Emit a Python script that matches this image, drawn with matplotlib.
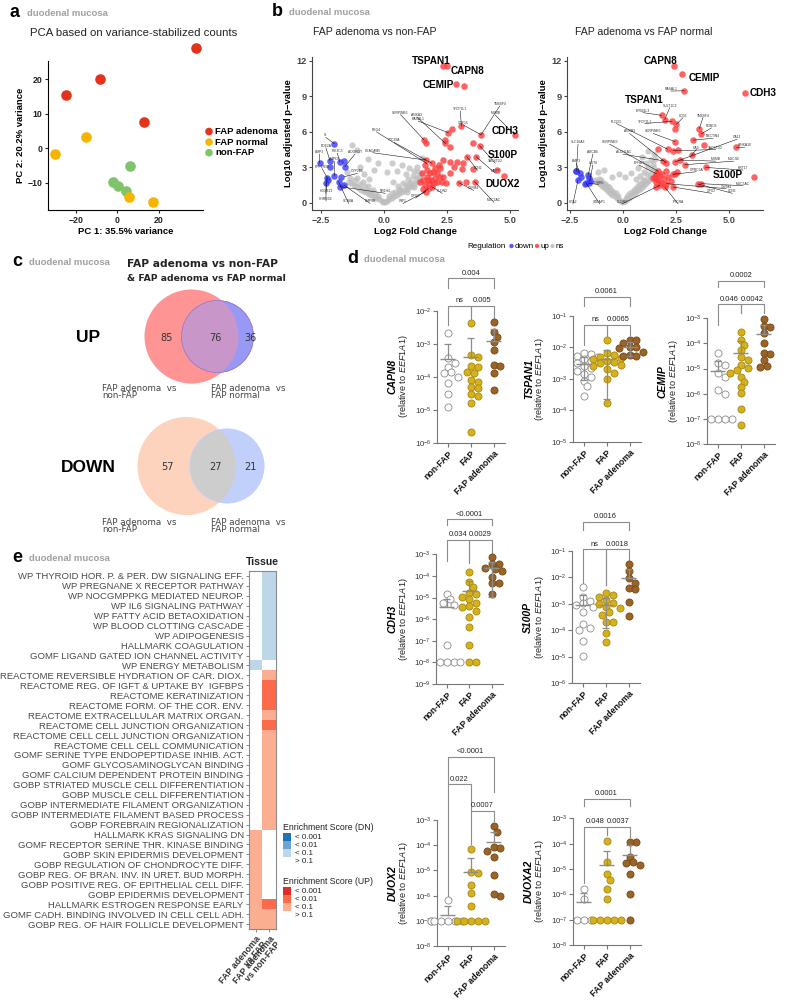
import numpy as np
import matplotlib
matplotlib.use("Agg")
import matplotlib.pyplot as plt
from matplotlib.patches import Circle, Rectangle
from matplotlib.colors import ListedColormap

plt.rcParams['font.family'] = ['Liberation Sans', 'DejaVu Sans']
plt.rcParams['mathtext.fontset'] = 'custom'
plt.rcParams['mathtext.rm'] = 'Liberation Sans'
plt.rcParams['mathtext.it'] = 'Liberation Sans:italic'
plt.rcParams['mathtext.bf'] = 'Liberation Sans:bold'

# ---------------- data: panel a (PCA) ----------------
adenoma_pc1 = [37.9, -8.4, -24.8, 12.9]
adenoma_pc2 = [29.0, 20.0, 15.3, 7.5]
normal_pc1 = [-15.1, -30.0, 5.6, 17.1]
normal_pc2 = [3.3, -1.6, -14.0, -15.6]
nonfap_pc1 = [6.3, -1.9, 0.2, 4.3]
nonfap_pc2 = [-5.2, -9.8, -11.0, -12.4]

# ---------------- data: panel b (volcano) ----------------
volc_l_up = [(2.33, 11.57), (2.51, 11.57), (2.86, 10.06), (3.15, 9.83), (3.06, 6.47), (2.70, 6.27),
             (2.55, 5.91), (2.41, 5.29), (2.59, 4.73), (2.43, 5.01), (3.84, 5.74), (5.17, 5.74),
             (3.51, 5.01), (3.78, 4.82), (3.28, 3.89), (3.65, 3.89), (2.88, 3.47), (3.13, 3.33),
             (2.62, 3.47), (2.35, 3.61), (2.75, 3.05), (2.17, 3.19), (1.90, 3.33), (1.59, 5.29),
             (1.67, 5.01), (1.65, 3.61), (1.64, 3.19), (4.47, 2.77), (4.76, 2.27), (3.51, 2.86),
             (3.08, 2.83), (3.23, 1.79), (3.58, 1.79), (2.95, 1.71), (2.46, 1.65), (2.35, 2.21),
             (2.59, 2.49), (2.22, 2.91), (2.09, 2.49), (1.69, 2.77), (1.83, 2.49), (1.93, 2.63),
             (2.02, 2.07), (1.85, 1.93), (1.69, 2.21), (1.56, 1.93), (1.76, 1.65), (1.96, 1.71),
             (2.09, 1.79), (1.89, 1.37), (1.63, 1.51), (1.76, 1.23), (1.49, 2.49), (2.20, 2.21),
             (2.29, 1.79), (1.43, 1.79), (2.02, 2.91), (1.65, 0.95), (1.55, 1.15), (1.72, 1.95)]
volc_l_down = [(-2.54, 3.33), (-2.14, 3.56), (-1.97, 4.99), (-2.14, 3.05), (-1.75, 3.47), (-1.57, 3.50),
               (-1.55, 3.05), (-1.96, 2.27), (-2.25, 2.13), (-2.30, 1.71), (-1.80, 1.79), (-1.72, 2.21),
               (-2.22, 1.93), (-1.75, 1.37), (-1.59, 1.51)]
volc_l_ns = [(-0.05, 0.05), (0.05, 0.10), (0.10, 0.20), (-0.10, 0.15), (0.20, 0.30), (-0.20, 0.30),
             (0.30, 0.45), (-0.30, 0.40), (0.40, 0.55), (-0.40, 0.50), (0.50, 0.70), (-0.50, 0.65),
             (0.60, 0.80), (-0.60, 0.75), (0.70, 0.90), (-0.70, 0.90), (0.80, 1.05), (-0.80, 1.00),
             (0.90, 1.20), (-0.90, 1.10), (1.00, 1.30), (-1.00, 1.25), (1.10, 1.45), (-1.10, 1.40),
             (1.20, 1.60), (-1.20, 1.50), (1.30, 1.75), (-1.30, 1.65), (1.40, 1.90), (-1.40, 1.80),
             (0.45, 0.90), (0.65, 1.20), (0.85, 1.50), (1.05, 1.80), (1.25, 2.10), (1.45, 2.40),
             (0.30, 0.80), (0.55, 1.40), (0.75, 1.70), (0.95, 2.00), (1.15, 2.30), (1.35, 2.60),
             (-0.35, 0.75), (-0.55, 1.00), (-0.75, 1.30), (-0.95, 1.60), (-1.15, 1.90), (-1.35, 2.10),
             (-0.25, 0.60), (-0.45, 1.10), (-0.65, 1.45), (-0.85, 1.80), (-1.05, 2.10), (0.20, 0.55),
             (0.60, 1.05), (1.00, 1.55), (1.40, 2.20), (1.20, 1.35), (0.90, 0.95), (-1.25, 4.90),
             (-1.05, 4.50), (-0.65, 3.70), (-0.25, 3.35), (0.30, 3.40), (0.70, 3.20), (1.00, 2.90),
             (-0.80, 2.40), (-1.45, 2.60), (0.10, 2.60), (1.30, 3.00), (1.50, 3.80), (0.50, 2.70),
             (-0.40, 2.80), (-0.95, 3.00), (0.85, 2.45), (1.20, 2.70), (-0.60, 2.00), (0.35, 1.80)]

volc_r_up = [(2.39, 11.58), (2.80, 10.83), (2.89, 9.45), (5.77, 9.23), (1.82, 7.38), (1.97, 7.02),
             (2.31, 6.88), (2.52, 6.63), (2.47, 6.27), (3.60, 6.27), (3.69, 5.82), (3.32, 5.29),
             (2.45, 5.17), (3.82, 4.84), (5.35, 4.67), (1.67, 4.53), (2.10, 4.53), (2.36, 4.39),
             (2.61, 4.45), (3.24, 4.03), (1.90, 3.55), (2.04, 3.38), (2.47, 3.47), (2.67, 3.61),
             (2.91, 3.22), (3.90, 2.99), (1.67, 2.66), (2.04, 2.71), (2.36, 2.41), (6.18, 2.15),
             (3.54, 1.59), (3.69, 1.62), (1.57, 2.46), (1.51, 2.20), (1.65, 1.93), (1.81, 1.71),
             (1.57, 1.79), (1.42, 2.07), (1.92, 1.99), (1.73, 1.48), (2.04, 1.62), (2.36, 1.34),
             (2.44, 2.46), (1.57, 1.37), (2.12, 2.20), (1.85, 2.45), (1.98, 1.30), (2.25, 1.85),
             (1.70, 2.30), (2.55, 2.60)]
volc_r_down = [(-2.20, 2.69), (-2.04, 2.49), (-2.00, 2.21), (-2.12, 1.93), (-1.64, 2.35), (-1.57, 1.85),
               (-1.73, 1.65), (-1.60, 1.65), (-1.78, 1.60), (-2.23, 2.70), (-1.62, 2.10)]
volc_r_ns = [(0.00, 0.05), (0.10, 0.15), (-0.10, 0.12), (0.20, 0.30), (-0.20, 0.28), (0.30, 0.45),
             (-0.30, 0.42), (0.40, 0.60), (-0.40, 0.55), (0.50, 0.75), (-0.50, 0.70), (0.60, 0.90),
             (-0.60, 0.85), (0.70, 1.05), (-0.70, 1.00), (0.80, 1.20), (-0.80, 1.15), (0.90, 1.35),
             (-0.90, 1.30), (1.00, 1.50), (-1.00, 1.45), (1.10, 1.65), (-1.10, 1.60), (1.20, 1.85),
             (-1.20, 1.75), (1.30, 2.00), (-1.30, 1.90), (1.40, 2.20), (0.45, 1.00), (0.65, 1.30),
             (0.85, 1.60), (1.05, 1.95), (1.25, 2.30), (0.35, 0.85), (0.55, 1.20), (0.75, 1.55),
             (0.95, 1.90), (1.15, 2.40), (1.35, 2.70), (-0.35, 0.80), (-0.55, 1.10), (-0.75, 1.40),
             (-0.95, 1.70), (-1.15, 2.05), (-0.25, 0.60), (-0.45, 0.95), (-0.65, 1.30), (-0.85, 1.60),
             (-1.05, 1.95), (0.15, 0.45), (0.25, 0.70), (1.00, 2.60), (1.20, 3.00), (1.40, 3.30),
             (0.80, 2.30), (0.60, 2.00), (1.30, 3.60), (1.10, 3.40), (1.45, 4.10), (1.20, 4.40),
             (0.90, 3.90), (0.70, 2.90), (0.40, 2.50), (-0.20, 2.40), (-0.50, 2.20), (-1.20, 2.60),
             (-0.90, 2.80), (0.10, 2.20), (1.45, 2.90), (1.50, 3.70)]

# gene labels: (name, point x, point y)
big_l = [("TSPAN1", 2.33, 11.57), ("CAPN8", 2.51, 11.57), ("CEMIP", 2.86, 10.06),
         ("CDH3", 5.17, 5.74), ("S100P", 4.76, 4.80), ("DUOX2", 4.76, 2.27)]
big_r = [("CAPN8", 2.39, 11.58), ("CEMIP", 2.80, 10.83), ("CDH3", 5.77, 9.23),
         ("TSPAN1", 1.82, 7.38), ("S100P", 6.18, 2.15)]
small_l = ["SI", "PDE2A", "BMP3", "PPP1R3B", "PIK3C3", "SMPD3", "ADGRG7", "CYP2B6", "HOXB13",
           "CHRNB2", "SCN8A", "BMP8B", "NR1H4", "CEACAM5", "REG4", "TTC39A", "ANXA3", "SERPINB5",
           "RASAL1", "TFCP2L1", "GDF15", "TM4SF4", "MSMB", "TACSTD2", "LCN2", "MMP7", "OLFM4",
           "MUC5AC", "GPX2", "WIF1", "CLDN2"]
small_r = ["RASAL1", "SULT1C2", "CD36", "EPB41L3", "PLCD3", "TFCP2L1", "TM4SF4", "ROBO1", "ANXA3",
           "SERPINB5", "NECTIN4", "CA12", "ANXA10", "SLC26A3", "SERPINB3", "ALDH1A1", "ABCB6",
           "TACSTD2", "CA9", "MSMB", "MUC5B", "BMP3", "UGT8", "EPHB3", "GPRC5A", "KRT17", "MUC5AC",
           "CDHR5", "OLFM4", "GPX2", "LCN2", "CPA2", "STEAP1", "CLDN2", "PTCRA"]

# ---------------- data: panel c (Venn) ----------------
venn_up = (85, 76, 36)
venn_down = (57, 27, 21)

# ---------------- data: panel d (qPCR, log10 relative expression) ----------------
d_groups = ['non-FAP', 'FAP', 'FAP adenoma']
capn8 = [[-2.67, -3.44, -3.58, -3.70, -3.85, -3.88, -4.0, -4.2, -4.53, -4.91],
         [-2.38, -3.34, -3.41, -3.68, -3.70, -3.85, -3.88, -4.1, -4.15, -4.3, -4.35, -4.53, -4.6, -4.79, -5.67],
         [-2.33, -2.64, -2.79, -2.94, -3.19, -3.64, -3.67, -3.89, -4.39]]
tspan1 = [[-2.17, -2.21, -2.27, -2.32, -2.38, -2.42, -2.51, -2.59, -2.67, -2.74, -2.85, -2.93, -3.06, -3.23, -3.55],
          [-1.76, -2.19, -2.24, -2.30, -2.34, -2.38, -2.42, -2.45, -2.51, -2.55, -2.6, -2.7, -2.8, -3.0, -3.76],
          [-1.76, -1.76, -1.87, -2.0, -2.0, -2.03, -2.14, -2.24, -2.28, -2.28]]
cemip = [[-4.39, -4.79, -4.86, -5.16, -5.35, -5.85, -6.01, -7.0, -7.0, -7.0, -7.0],
         [-3.53, -3.86, -4.06, -4.26, -4.53, -4.66, -4.86, -4.99, -5.06, -5.16, -5.32, -5.52, -5.72, -5.98, -6.62, -7.24],
         [-3.03, -3.3, -3.35, -3.6, -4.0, -4.39, -4.43, -4.66, -4.95, -4.9]]
cdh3 = [[-4.85, -5.08, -5.26, -5.34, -7.19, -8.0, -8.0, -8.0, -8.0],
        [-3.8, -4.27, -4.5, -4.77, -4.83, -4.96, -5.08, -5.26, -5.39, -5.42, -5.6, -5.91, -6.37, -7.19, -8.0, -8.0],
        [-3.14, -3.45, -3.45, -3.62, -3.7, -3.75, -4.03, -4.34, -4.34, -4.83]]
s100p = [[-2.35, -2.73, -2.9, -2.98, -3.04, -3.1, -3.29, -3.77, -3.92, -3.99, -4.4, -4.97],
         [-2.6, -2.66, -2.75, -2.85, -2.98, -3.02, -3.1, -3.15, -3.29, -3.42, -3.67, -3.7, -4.11, -4.43],
         [-1.49, -1.76, -2.03, -2.2, -2.41, -2.45, -2.92, -3.46]]
duox2 = [[-6.17, -7, -7, -7, -7, -7, -7, -7],
         [-4.14, -5.05, -5.1, -5.58, -5.91, -6.41, -7, -7, -7, -7, -7],
         [-3.24, -3.46, -4.06, -4.12, -4.24, -4.48, -5.18, -6.0, -5.94]]
duoxa2 = [[-5.79, -6.2, -7.01, -7.01, -7.01],
          [-3.89, -4.72, -5.2, -5.43, -5.79, -6.2, -7.01, -7.01, -7.01, -7.01, -7.01],
          [-3.92, -3.92, -4.51, -4.71, -4.78, -4.84, -5.21, -5.99, -7.01]]
# p-value labels per panel: (left, right, label)
p_capn8 = [(0, 2, '0.004'), (0, 1, 'ns'), (1, 2, '0.005')]
p_tspan1 = [(0, 2, '0.0061'), (0, 1, 'ns'), (1, 2, '0.0065')]
p_cemip = [(0, 2, '0.0002'), (0, 1, '0.046'), (1, 2, '0.0042')]
p_cdh3 = [(0, 2, '<0.0001'), (0, 1, '0.034'), (1, 2, '0.0029')]
p_s100p = [(0, 2, '0.0016'), (0, 1, 'ns'), (1, 2, '0.0018')]
p_duox2 = [(0, 2, '<0.0001'), (0, 1, '0.022'), (1, 2, '0.0007')]
p_duoxa2 = [(0, 2, '0.0001'), (0, 1, '0.048'), (1, 2, '0.0037')]

# ---------------- data: panel e (enrichment heatmap) ----------------
pathways = ["WP THYROID HOR. P. & PER. DW SIGNALING EFF.", "WP PREGNANE X RECEPTOR PATHWAY",
            "WP NOCGMPPKG MEDIATED NEUROP.", "WP IL6 SIGNALING PATHWAY", "WP FATTY ACID BETAOXIDATION",
            "WP BLOOD CLOTTING CASCADE", "WP ADIPOGENESIS", "HALLMARK COAGULATION",
            "GOMF LIGAND GATED ION CHANNEL ACTIVITY", "WP ENERGY METABOLISM",
            "REACTOME REVERSIBLE HYDRATION OF CAR. DIOX.", "REACTOME REG. OF IGFT & UPTAKE BY  IGFBPS",
            "REACTOME KERATINIZATION", "REACTOME FORM. OF THE COR. ENV.",
            "REACTOME EXTRACELLULAR MATRIX ORGAN.", "REACTOME CELL JUNCTION ORGANIZATION",
            "REACTOME CELL CELL JUNCTION ORGANIZATION", "REACTOME CELL CELL COMMUNICATION",
            "GOMF SERINE TYPE ENDOPEPTIDASE INHIB. ACT.", "GOMF GLYCOSAMINOGLYCAN BINDING",
            "GOMF CALCIUM DEPENDENT PROTEIN BINDING", "GOBP STRIATED MUSCLE CELL DIFFERENTIATION",
            "GOBP MUSCLE CELL DIFFERENTIATION", "GOBP INTERMEDIATE FILAMENT ORGANIZATION",
            "GOBP INTERMEDIATE FILAMENT BASED PROCESS", "GOBP FOREBRAIN REGIONALIZATION",
            "HALLMARK KRAS SIGNALING DN", "GOMF RECEPTOR SERINE THR. KINASE BINDING",
            "GOBP SKIN EPIDERMIS DEVELOPMENT", "GOBP REGULATION OF CHONDROCYTE DIFF.",
            "GOBP REG. OF BRAN. INV. IN URET. BUD MORPH.", "GOBP POSITIVE REG. OF EPITHELIAL CELL DIFF.",
            "GOBP EPIDERMIS DEVELOPMENT", "HALLMARK ESTROGEN RESPONSE EARLY",
            "GOMF CADH. BINDING INVOLVED IN CELL CELL ADH.", "GOBP REG. OF HAIR FOLLICLE DEVELOPMENT"]
comparisons = ["FAP adenoma\nvs FAP", "FAP adenoma\nvs non-FAP"]
# score class: '' = > 0.1, 'dn3' = DN < 0.1, 'up2' = UP < 0.01, 'up3' = UP < 0.1
score_vs_fap = [''] * 9 + ['dn3'] + [''] * 16 + ['up3'] * 10
score_vs_nonfap = (['dn3'] * 9 + [''] + ['up3', 'up2', 'up2', 'up2', 'up3', 'up2'] + ['up3'] * 10
                   + [''] * 7 + ['up2', 'up3', 'up3'])
score_classes = ['', 'dn1', 'dn2', 'dn3', 'up1', 'up2', 'up3']
score_colors = ['#ffffff', '#2171b5', '#6aa6d4', '#bdd7e9', '#de2d26', '#fb6a4a', '#fcae91']
legend_labels = ['< 0.001', '< 0.01', '< 0.1', '> 0.1']

# ======================================================================
W, H = 790, 1005
fig = plt.figure(figsize=(W / 100, H / 100), dpi=100)

ov = fig.add_axes([0, 0, 1, 1])
ov.set_xlim(0, W)
ov.set_ylim(H, 0)
ov.axis('off')


def ax_px(l, t, r, b):
    return fig.add_axes([l / W, 1 - b / H, (r - l) / W, (b - t) / H])


def txt(x, y, s, **kw):
    kw.setdefault('va', 'center')
    ov.text(x, y, s, **kw)


GRAY_T = '#a0a0a0'


def panel_tag(x, y, letter):
    txt(x, y, letter, fontsize=13, fontweight='bold', ha='left')
    txt(x + 17, y + 1, 'duodenal mucosa', fontsize=6.8, fontweight='bold', color=GRAY_T, ha='left')


# ---------------- panel a ----------------
panel_tag(10, 12, 'a')
txt(30, 33, 'PCA based on variance-stabilized counts', fontsize=8.2, ha='left', color='#222')
ax = ax_px(48, 61, 203, 210)
col_a = ['#e5321b', '#f7b400', '#7fc36b']
for xs, ys, c in [(nonfap_pc1, nonfap_pc2, col_a[2]), (normal_pc1, normal_pc2, col_a[1]),
                  (adenoma_pc1, adenoma_pc2, col_a[0])]:
    ax.scatter(xs, ys, s=58, c=c, lw=0, clip_on=False, zorder=3)
ax.set_xlim(-33.5, 41.4)
ax.set_ylim(-17.8, 25.2)
ax.set_xticks([-20, 0, 20])
ax.set_yticks([-10, 0, 10, 20])
for s in ['top', 'right']:
    ax.spines[s].set_visible(False)
for s in ['left', 'bottom']:
    ax.spines[s].set_linewidth(0.8)
ax.tick_params(length=2.5, width=0.8, labelsize=6.3, pad=1.5, colors='#222')
for lab in ax.get_xticklabels() + ax.get_yticklabels():
    lab.set_fontweight('bold')
ax.set_xlabel('PC 1: 35.5% variance', fontsize=6.8, fontweight='bold', labelpad=2)
ax.set_ylabel('PC 2: 20.2% variance', fontsize=6.8, fontweight='bold', labelpad=2)
for k, (name, c) in enumerate(zip(['FAP adenoma', 'FAP normal', 'non-FAP'], col_a)):
    ov.add_patch(Circle((209, 131.5 + k * 10.6), 3.8, color=c, lw=0))
    txt(215, 131.5 + k * 10.6, name, fontsize=6.8, fontweight='bold', ha='left')

# ---------------- panel b ----------------
panel_tag(272, 11, 'b')


def volcano(box, xlim, ns, down, up, big, big_pos, small, small_pos, title, title_x):
    ax = ax_px(*box)
    ax.scatter(*zip(*ns), s=20, c='#bdbdbd', alpha=0.75, lw=0, zorder=2)
    ax.scatter(*zip(*down), s=22, c='#3a3aff', alpha=0.8, lw=0, zorder=3)
    ax.scatter(*zip(*up), s=22, c='#ff3b3b', alpha=0.8, lw=0, zorder=3)
    ax.set_xlim(*xlim)
    ax.set_ylim(-0.6, 12.3)
    ax.set_xticks([-2.5, 0, 2.5, 5.0])
    ax.set_xticklabels(['\u22122.5', '0.0', '2.5', '5.0'])
    ax.set_yticks([0, 3, 6, 9, 12])
    for s in ['top', 'right']:
        ax.spines[s].set_visible(False)
    for s in ['left', 'bottom']:
        ax.spines[s].set_linewidth(0.8)
        ax.spines[s].set_color('#444')
    ax.tick_params(length=2.5, width=0.8, labelsize=6.6, pad=1.5, colors='#444')
    for lab in ax.get_xticklabels() + ax.get_yticklabels():
        lab.set_fontweight('bold')
    ax.set_xlabel('Log2 Fold Change', fontsize=6.8, fontweight='bold', labelpad=2)
    ax.set_ylabel('Log10 adjusted p\u2212value', fontsize=6.8, fontweight='bold', labelpad=2)
    for name, (tx, ty, px, py) in zip(small, small_pos):
        ax.plot([tx, px], [ty, py], color='black', lw=0.35, zorder=4)
        ax.text(tx, ty, name, fontsize=2.4, ha='center', va='bottom', color='#333', zorder=5)
    for (name, px, py), (tx, ty) in zip(big, big_pos):
        ax.text(tx, ty, name, fontsize=7.2, fontweight='bold', ha='center', va='center', zorder=6)
    txt(title_x, 32, title, fontsize=7.6, ha='center', color='#222')
    return ax


small_l_pos = [(-2.30, 5.52, -1.97, 4.99), (-2.30, 4.65, -2.14, 3.56), (-2.55, 4.12, -2.54, 3.33),
               (-2.45, 2.89, -2.25, 2.13), (-1.85, 4.20, -1.75, 3.47), (-1.95, 3.50, -1.97, 2.27),
               (-1.15, 4.12, -1.55, 3.05), (-1.05, 2.49, -1.57, 2.21), (-2.30, 0.81, -2.25, 2.13),
               (-2.30, 0.17, -2.30, 1.71), (-1.40, -0.05, -1.80, 1.79), (-0.55, -0.05, -1.59, 1.51),
               (0.05, 0.81, -1.75, 1.37), (-0.45, 4.23, 1.65, 3.61), (-0.30, 5.99, 1.69, 3.33),
               (0.40, 5.10, 1.90, 3.33), (1.30, 7.25, 2.43, 5.01), (0.65, 7.45, 1.59, 5.29),
               (1.35, 6.90, 2.55, 5.91), (3.02, 7.75, 3.06, 6.47), (3.15, 6.55, 3.84, 5.74),
               (4.58, 8.18, 3.84, 5.74), (4.40, 7.40, 5.17, 5.74), (4.40, 3.35, 3.78, 4.82),
               (3.70, 2.75, 3.28, 3.89), (4.40, 2.50, 3.65, 3.89), (3.55, 1.05, 2.95, 1.71),
               (4.35, 0.05, 3.58, 1.79), (1.25, 0.40, 1.76, 1.23), (0.75, -0.05, 1.65, 0.95),
               (2.30, 0.80, 1.89, 1.37)]
small_r_pos = [(2.25, 9.43, 2.89, 9.45), (2.20, 8.03, 1.97, 7.02), (2.83, 7.19, 2.52, 6.63),
               (0.94, 7.61, 1.82, 7.38), (-0.31, 6.69, 2.10, 4.53), (1.02, 6.69, 2.31, 6.88),
               (3.77, 7.19, 3.60, 6.27), (4.17, 6.32, 3.69, 5.82), (0.31, 5.85, 2.04, 3.38),
               (1.42, 5.85, 2.45, 5.17), (4.25, 5.45, 3.32, 5.29), (5.38, 5.37, 2.47, 3.47),
               (5.74, 4.70, 5.35, 4.67), (-2.12, 4.95, -2.20, 2.69), (-0.63, 4.95, 1.67, 2.66),
               (0.00, 4.11, 1.90, 3.55), (-1.42, 4.11, -1.64, 2.35), (4.37, 4.50, 2.36, 4.39),
               (3.46, 4.50, 3.24, 4.03), (4.37, 3.52, 2.67, 3.61), (5.22, 3.52, 2.91, 3.22),
               (-2.20, 3.33, -2.04, 2.49), (-1.42, 3.19, -1.57, 1.85), (0.75, 3.19, 1.57, 2.46),
               (3.46, 2.63, 2.36, 2.41), (5.66, 2.77, 3.90, 2.99), (5.66, 1.45, 3.69, 1.62),
               (-1.15, 1.55, -1.60, 1.65), (4.87, 1.20, 2.04, 1.62), (4.17, 0.81, 2.36, 1.34),
               (5.15, 0.81, 3.54, 1.59), (-2.36, -0.08, -2.12, 1.93), (-1.10, -0.08, -1.73, 1.65),
               (-0.05, -0.08, 1.73, 1.48), (2.60, -0.08, 1.98, 1.30)]
big_l_pos = [(1.85, 11.95), (3.30, 11.15), (2.15, 9.95), (4.78, 6.05), (4.70, 4.05), (4.70, 1.60)]
big_r_pos = [(1.76, 11.95), (3.82, 10.55), (6.62, 9.30), (1.02, 8.70), (4.95, 2.35)]

volcano((312, 57, 518, 210), (-2.85, 5.3), volc_l_ns, volc_l_down, volc_l_up,
        big_l, big_l_pos, small_l, small_l_pos, 'FAP adenoma vs non-FAP', 375)
volcano((567, 57, 763, 210), (-2.64, 6.6), volc_r_ns, volc_r_down, volc_r_up,
        big_r, big_r_pos, small_r, small_r_pos, 'FAP adenoma vs FAP normal', 644)

txt(467, 246, 'Regulation', fontsize=5.8, ha='left')
for cx, c, lab in [(511.5, '#3a3aff', 'down'), (537, '#ff3b3b', 'up'), (552.5, '#bdbdbd', 'ns')]:
    ov.add_patch(Circle((cx, 246), 2.2, color=c, lw=0, alpha=0.85))
    txt(cx + 3.5, 246, lab, fontsize=5.8, ha='left')

# ---------------- panel c ----------------
panel_tag(12, 261, 'c')
txt(127, 264, 'FAP adenoma vs non-FAP', fontsize=7.7, fontweight='bold', ha='left',
    family='DejaVu Sans', color='#222')
txt(127, 278, '& FAP adenoma vs FAP normal', fontsize=6.7, fontweight='bold', ha='left',
    family='DejaVu Sans', color='#222')


def venn(cy, counts, c_left, c_right, c_mid, r_left, r_right, xl, xr, edge):
    left = Circle((xl, cy), r_left, facecolor=c_left, edgecolor='none')
    right = Circle((xr, cy), r_right, facecolor=c_right, edgecolor=edge, lw=0.5)
    ov.add_patch(left)
    ov.add_patch(right)
    mid = Circle((xl, cy), r_left, facecolor=c_mid, edgecolor='none')
    ov.add_patch(mid)
    mid.set_clip_path(right)
    ov.add_patch(Circle((xr, cy), r_right, facecolor='none', edgecolor=edge, lw=0.5))
    for x, n in zip([167, 215, 250], counts):
        txt(x, cy + 1, str(n), fontsize=7, ha='center', color='#333', family='DejaVu Sans')


venn(336.5, venn_up, '#ff9494', '#9898f6', '#c996c9', 47, 36, 191.5, 217.5, '#9c7cc8')
venn(466, venn_down, '#fdd3be', '#c0d0fa', '#cdcdcd', 49, 37, 186.5, 227, '#c0d0fa')
txt(88, 337, 'UP', fontsize=12.5, fontweight='bold', ha='center')
txt(88, 467, 'DOWN', fontsize=12.5, fontweight='bold', ha='center')
for y0 in (392, 526):
    txt(102, y0, 'FAP adenoma  vs\nnon-FAP', fontsize=6.3, ha='left', color='#444',
        family='DejaVu Sans', linespacing=0.85)
    txt(211, y0, 'FAP adenoma  vs\nFAP normal', fontsize=6.3, ha='left', color='#444',
        family='DejaVu Sans', linespacing=0.85)

# ---------------- panel d ----------------
panel_tag(347, 258, 'd')
pt_face = ['white', '#d6b11e', '#9a6426']
pt_edge = ['#8a8a8a', '#a8880e', '#74481a']
GL = '#8c8c8c'


def swarm(logs, px_dec, px_unit, diam=6.6):
    order = np.argsort(logs)[::-1]
    placed = []
    offs = np.zeros(len(logs))
    cands = [0, 0.55, -0.55, 1.05, -1.05, 1.6, -1.6, 2.1, -2.1, 2.6, -2.6]
    for i in order:
        y = logs[i] * px_dec
        for c in cands:
            x = c * diam
            if all((x - px) ** 2 + (y - py) ** 2 >= (0.92 * diam) ** 2 for px, py in placed):
                break
        placed.append((x, y))
        offs[i] = x / px_unit
    return offs


def dot_panel(box, gene, groups, lo_dec, hi_dec, pvals, bracket_y):
    l, t, r, b = box
    ax = ax_px(l, t, r, b)
    px_dec = (b - t) / (hi_dec - lo_dec)
    xmin, xmax = -0.47, 2.5
    px_unit = (r - l) / (xmax - xmin)
    for k, logs in enumerate(groups):
        logs = np.array(logs, dtype=float)
        vals = 10.0 ** logs
        offs = swarm(logs, px_dec, px_unit)
        ax.scatter(k + offs, vals, s=26, facecolor=pt_face[k], edgecolor=pt_edge[k],
                   lw=0.6, zorder=3, clip_on=False)
        m = vals.mean()
        sd = vals.std(ddof=1)
        ax.hlines(m, k - 0.33, k + 0.33, color=GL, lw=1.0, zorder=4)
        ax.vlines(k, m, m + sd, color=GL, lw=0.9, zorder=4)
        ax.hlines(m + sd, k - 0.16, k + 0.16, color=GL, lw=0.9, zorder=4)
        if m - sd > 0:
            ax.vlines(k, m - sd, m, color=GL, lw=0.9, zorder=4)
            ax.hlines(m - sd, k - 0.16, k + 0.16, color=GL, lw=0.9, zorder=4)
    ax.set_yscale('log')
    ax.set_ylim(10.0 ** lo_dec, 10.0 ** hi_dec)
    ax.set_xlim(xmin, xmax)
    decs = np.arange(lo_dec, hi_dec + 1)
    ax.set_yticks(10.0 ** decs)
    ax.set_yticklabels([r'$10^{%d}$' % d for d in decs])
    ax.yaxis.set_minor_locator(matplotlib.ticker.NullLocator())
    ax.set_xticks([0, 1, 2])
    ax.set_xticklabels(d_groups, rotation=45, ha='right', rotation_mode='anchor',
                       fontweight='bold', fontsize=6.3)
    for s in ['top', 'right']:
        ax.spines[s].set_visible(False)
    for s in ['left', 'bottom']:
        ax.spines[s].set_linewidth(0.8)
        ax.spines[s].set_color('#777')
    ax.tick_params(axis='y', length=3, width=0.8, labelsize=5.6, pad=1, colors='#777',
                   labelcolor='#333')
    ax.tick_params(axis='x', length=3, width=0.8, pad=1.5, colors='#777', labelcolor='#111')
    ax.patch.set_alpha(0)
    for (i, j, lab), (yt, yl, yr) in zip(pvals, bracket_y):
        ax.plot([i, i, j, j], [10.0 ** yl, 10.0 ** yt, 10.0 ** yt, 10.0 ** yr], color=GL,
                lw=0.8, clip_on=False, zorder=2)
        ax.annotate(lab, ((i + j) / 2, 10.0 ** yt), xytext=(0, 1.2), textcoords='offset points',
                    ha='center', va='bottom', fontsize=5.4, color='#222', annotation_clip=False)
    cy = (t + b) / 2
    txt(l - 44, cy, gene, rotation=90, fontsize=7.5, fontweight='bold', style='italic',
        ha='center')
    txt(l - 33, cy, r'(relative to $\mathit{EEF1A1}$)', rotation=90, fontsize=6.6, ha='center',
        color='#222')
    return ax


dot_panel((437, 310.7, 505, 442.7), 'CAPN8', capn8, -6, -2, p_capn8,
          [(-1.02, -1.3, -1.3), (-1.86, -2.44, -2.28), (-1.86, -2.13, -2.22)])
dot_panel((573, 316, 641, 441.7), 'TSPAN1', tspan1, -5, -1, p_tspan1,
          [(-0.39, -0.68, -0.68), (-1.29, -1.92, -1.76), (-1.29, -1.6, -1.6)])
dot_panel((707, 318.3, 775, 444), 'CEMIP', cemip, -8, -3, p_cemip,
          [(-1.5, -1.77, -1.77), (-2.44, -3.27, -2.8), (-2.44, -2.8, -2.8)])
dot_panel((436, 554.3, 503, 684), 'CDH3', cdh3, -9, -3, p_cdh3,
          [(-1.38, -1.64, -1.64), (-2.34, -3.3, -3.4), (-2.34, -3.3, -2.94)])
dot_panel((572, 551, 640, 683.3), 'S100P', s100p, -6, -1, p_s100p,
          [(0.11, -0.21, -0.21), (-0.94, -2.22, -2.28), (-0.94, -2.28, -1.34)])
dot_panel((437, 820, 505, 946), 'DUOX2', duox2, -8, -3, p_duox2,
          [(-0.49, -1.58, -1.88), (-1.58, -6.0, -2.64), (-2.64, -3.96, -3.05)])
dot_panel((573, 818.3, 641, 945), 'DUOXA2', duoxa2, -8, -3, p_duoxa2,
          [(-2.24, -2.5, -2.5), (-3.33, -5.56, -3.66), (-3.33, -3.66, -3.73)])

# ---------------- panel e ----------------
panel_tag(12, 557, 'e')
txt(262, 562, 'Tissue', fontsize=7.6, fontweight='bold', ha='center', color='#222')
axh = ax_px(249.3, 571, 276, 929)
idx = np.array([[score_classes.index(a), score_classes.index(b)]
                for a, b in zip(score_vs_fap, score_vs_nonfap)])
axh.imshow(idx, cmap=ListedColormap(score_colors), vmin=-0.5, vmax=len(score_colors) - 0.5,
           aspect='auto', interpolation='nearest')
axh.set_yticks(np.arange(len(pathways)))
axh.set_yticklabels(pathways, fontsize=6.8, color='#4a4a4a')
axh.set_xticks([0, 1])
axh.set_xticklabels(comparisons, rotation=50, ha='right', rotation_mode='anchor',
                    fontsize=6.4, fontweight='bold', color='#333', linespacing=0.8)
for s in axh.spines.values():
    s.set_color('#8a8a8a')
    s.set_linewidth(0.8)
axh.tick_params(length=2.5, width=0.7, colors='#8a8a8a', pad=1.5)
for lab in axh.get_yticklabels():
    lab.set_color('#4a4a4a')
for lab in axh.get_xticklabels():
    lab.set_color('#333')

for y0, title, cols in [(827, 'Enrichment Score (DN)', score_colors[1:4]),
                        (881, 'Enrichment Score (UP)', score_colors[4:7])]:
    txt(283, y0, title, fontsize=6.3, ha='left', color='#222')
    for k, (c, lab) in enumerate(zip(list(cols) + ['#ffffff'], legend_labels)):
        yy = y0 + 6 + k * 8
        ov.add_patch(Rectangle((283, yy), 8, 8, facecolor=c, edgecolor='none'))
        txt(295, yy + 4, lab, fontsize=5.8, ha='left', color='#222')

fig.savefig('out.png', dpi=100)
